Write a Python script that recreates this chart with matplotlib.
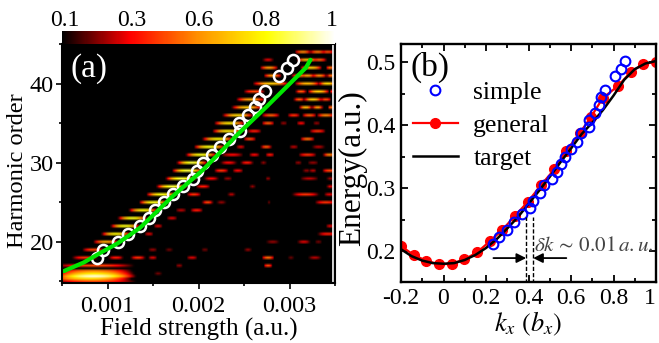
import numpy as np
import matplotlib
matplotlib.use("Agg")
import matplotlib.pyplot as plt
from matplotlib.colors import LinearSegmentedColormap, Normalize
from matplotlib.cm import ScalarMappable
from matplotlib.ticker import MultipleLocator

plt.rcParams['font.family'] = ['Liberation Serif', 'DejaVu Serif']
plt.rcParams['mathtext.fontset'] = 'stix'

# === panel (a) data, field strength in units of 1e-3 a.u. ===
circle_order = [18, 19, 20, 21, 22, 23, 24, 25, 26, 27, 28, 29, 30, 31, 32, 33, 34, 35, 36, 37, 38, 39, 41, 42, 43]
circle_field = [0.88, 0.95, 1.11, 1.22, 1.36, 1.46, 1.52, 1.62, 1.72, 1.83, 1.94, 1.98, 2.05, 2.15, 2.24, 2.33,
                2.46, 2.45, 2.54, 2.62, 2.67, 2.73, 2.89, 2.97, 3.04]
green_field = [0.52, 0.74, 0.92, 1.11, 1.36, 1.72, 2.05, 2.45, 2.75, 3.18, 3.23]
green_order = [16.3, 17.4, 18.6, 19.8, 21.8, 25.8, 29.1, 33.8, 37.1, 42.0, 43.0]

# bright ridge next to the circles
ridge_order = [18, 19, 20, 21, 22, 23, 24, 25, 26, 27, 28, 29, 30, 31, 32, 33, 34, 35, 36, 37, 38, 39]
ridge_center = [0.75, 0.84, 0.98, 1.09, 1.19, 1.27, 1.39, 1.50, 1.59, 1.70, 1.80, 1.87, 1.92, 2.02, 2.11, 2.20,
                2.31, 2.33, 2.42, 2.52, 2.56, 2.60]
ridge_width = [0.14, 0.12, 0.14, 0.16, 0.16, 0.16, 0.16, 0.16, 0.17, 0.17, 0.17, 0.17, 0.17, 0.17, 0.17, 0.17,
               0.17, 0.17, 0.17, 0.17, 0.16, 0.12]
ridge_level = [0.45, 0.5, 0.75, 1.0, 1.05, 1.05, 1.0, 1.05, 1.05, 1.1, 1.1, 1.1, 1.1, 1.05, 1.05, 1.0,
               0.95, 0.95, 0.9, 0.85, 0.75, 0.5]

# weaker spots away from the ridge
spot_order = [44, 44, 44, 43, 43, 43, 42, 42, 42, 41, 41, 41, 41, 41, 40, 40, 40, 39, 39, 39, 39, 38, 38, 38,
              37, 37, 37, 36, 36, 36, 36, 35, 35, 35, 35, 34, 34, 33, 33, 32, 32, 32, 32, 31, 31, 31, 31, 31,
              30, 30, 30, 30, 30, 29, 29, 29, 29, 29, 28, 28, 28, 28, 28, 27, 27, 27, 26, 26, 26, 26,
              25, 25, 25, 25, 24, 24, 23, 22, 22, 21, 21, 20, 20, 20, 19, 19, 19, 19,
              18, 18, 18, 18, 18, 18, 18, 17, 17, 16,
              17, 16.3, 16, 15.7, 15.3, 15]
spot_center = [3.13, 3.29, 3.40, 2.75, 3.18, 3.31, 2.76, 3.22, 3.43, 2.80, 3.10, 3.18, 3.31, 3.44, 2.78, 3.18, 3.40,
               2.60, 3.11, 3.30, 3.45, 3.09, 3.24, 3.38, 3.16, 3.29, 3.44, 2.78, 3.03, 3.20, 3.38, 2.75, 2.92, 3.11,
               3.28, 2.60, 3.29, 2.55, 3.18, 2.45, 2.73, 3.03, 3.30, 2.36, 2.60, 2.77, 3.18, 3.42, 2.32, 2.52, 2.70,
               3.08, 3.24, 2.24, 2.42, 3.17, 3.24, 3.42, 2.13, 2.31, 2.75, 3.20, 3.43, 2.04, 2.58, 3.43, 1.94, 2.35,
               3.16, 3.42, 2.09, 2.24, 2.76, 3.38, 1.97, 1.80, 1.70, 1.55, 3.43, 1.45, 3.40, 2.80, 3.14, 3.30,
               1.49, 1.67, 2.06, 2.53, 1.09, 1.33, 1.49, 1.92, 2.75, 3.00, 3.26, 2.75, 1.78, 1.55,
               0.85, 0.85, 0.85, 0.85, 0.80, 0.85]
spot_width = [0.09, 0.09, 0.07, 0.06, 0.12, 0.08, 0.10, 0.12, 0.05, 0.10, 0.10, 0.08, 0.08, 0.05, 0.20, 0.14, 0.10,
              0.07, 0.06, 0.12, 0.03, 0.06, 0.10, 0.06, 0.07, 0.06, 0.04, 0.10, 0.07, 0.08, 0.10, 0.07, 0.04, 0.05,
              0.04, 0.08, 0.09, 0.07, 0.08, 0.05, 0.06, 0.05, 0.07, 0.12, 0.06, 0.05, 0.10, 0.07, 0.09, 0.07, 0.03,
              0.04, 0.06, 0.08, 0.06, 0.04, 0.04, 0.08, 0.08, 0.05, 0.03, 0.10, 0.04, 0.08, 0.03, 0.04, 0.08, 0.04,
              0.15, 0.06, 0.06, 0.05, 0.02, 0.12, 0.07, 0.06, 0.06, 0.05, 0.05, 0.05, 0.11, 0.07, 0.07, 0.04,
              0.05, 0.04, 0.04, 0.04, 0.08, 0.08, 0.05, 0.06, 0.07, 0.03, 0.07, 0.05, 0.04, 0.04,
              0.44, 0.42, 0.44, 0.46, 0.46, 0.46]
spot_level = [0.65, 0.60, 0.50, 0.30, 0.80, 0.55, 0.70, 0.85, 0.60, 0.70, 0.60, 0.70, 0.65, 0.60, 0.85, 0.80, 0.90,
              0.40, 0.55, 0.85, 0.40, 0.55, 0.85, 0.50, 0.80, 0.70, 0.60, 0.55, 0.45, 0.55, 0.65, 0.55, 0.20, 0.35,
              0.20, 0.40, 0.45, 0.50, 0.60, 0.30, 0.55, 0.25, 0.25, 0.35, 0.35, 0.40, 0.45, 0.65, 0.35, 0.40, 0.20,
              0.20, 0.20, 0.45, 0.35, 0.20, 0.25, 0.50, 0.35, 0.20, 0.20, 0.25, 0.20, 0.40, 0.20, 0.30, 0.45, 0.25,
              0.45, 0.30, 0.50, 0.20, 0.15, 0.45, 0.40, 0.25, 0.30, 0.30, 0.30, 0.30, 0.40, 0.20, 0.30, 0.15,
              0.20, 0.15, 0.15, 0.20, 0.40, 0.45, 0.30, 0.30, 0.60, 0.15, 0.25, 0.50, 0.20, 0.15,
              0.50, 0.65, 0.95, 1.3, 0.9, 0.5]

cbar_ticks = [0.012, 0.257, 0.5, 0.745, 0.989]
cbar_labels = ["0.1", "0.3", "0.6", "0.8", "1"]

# === panel (b) data ===
target_k = [-0.2, -0.15, -0.1, -0.05, 0, 0.05, 0.1, 0.15, 0.2, 0.25, 0.3, 0.35, 0.4, 0.45, 0.5, 0.55, 0.6, 0.65,
            0.7, 0.75, 0.8, 0.85, 0.9, 0.95, 1.0]
target_e = [0.203, 0.192, 0.185, 0.181, 0.180, 0.181, 0.186, 0.194, 0.205, 0.219, 0.236, 0.254, 0.275, 0.296,
            0.318, 0.341, 0.363, 0.386, 0.404, 0.424, 0.447, 0.472, 0.489, 0.498, 0.502]
general_k = [-0.199, -0.141, -0.082, -0.022, 0.039, 0.098, 0.158, 0.219, 0.275, 0.336, 0.396, 0.459, 0.522, 0.577,
             0.64, 0.694, 0.749, 0.82, 0.883, 0.94, 1.0]
general_e = [0.208, 0.194, 0.185, 0.179, 0.180, 0.187, 0.198, 0.216, 0.233, 0.256, 0.278, 0.305, 0.330, 0.359,
             0.387, 0.413, 0.443, 0.462, 0.485, 0.497, 0.501]
simple_k = [0.235, 0.26, 0.30, 0.334, 0.37, 0.405, 0.42, 0.452, 0.475, 0.51, 0.533, 0.554, 0.574, 0.601, 0.627,
            0.648, 0.684, 0.684, 0.715, 0.734, 0.742, 0.761, 0.808, 0.833, 0.855]
simple_e = [0.211, 0.223, 0.234, 0.246, 0.259, 0.269, 0.280, 0.293, 0.305, 0.315, 0.326, 0.339, 0.350, 0.363, 0.373,
            0.387, 0.397, 0.409, 0.420, 0.432, 0.445, 0.456, 0.478, 0.490, 0.502]

W, H = 659, 343


def box(x0, y0, x1, y1):
    return [x0 / W, 1 - y1 / H, (x1 - x0) / W, (y1 - y0) / H]


fig = plt.figure(figsize=(W / 100, H / 100), dpi=100)
cmap = LinearSegmentedColormap.from_list(
    "heat", [(0, "black"), (0.25, "#ff0000"), (0.5, "#ff9000"), (0.75, "#ffff00"), (1, "white")])

# === (a) harmonic map ===
ax = fig.add_axes(box(62, 44, 335, 283))
columns = np.arange(0.5, 3.5, 0.02)
step = 1 / 3
rows = 14 + step * np.arange(94)
grid = np.zeros((len(rows), len(columns)))
for orders, centers, widths, levels in [(spot_order, spot_center, spot_width, spot_level),
                                        (ridge_order, ridge_center, ridge_width, ridge_level)]:
    for n, c, w, lv in zip(orders, centers, widths, levels):
        shape = lv * np.clip(1 - ((columns - c) / w) ** 2, 0, None)
        r = np.argmin(np.abs(rows - n))
        grid[r] = np.maximum(grid[r], shape)

ax.imshow(grid, origin='lower', aspect='auto', cmap=cmap, vmin=0, vmax=1.35, interpolation='bilinear',
          extent=[0.49e-3, 3.51e-3, rows[0] - step / 2, rows[-1] + step / 2])
ax.plot(np.array(circle_field) * 1e-3, circle_order, 'o', mfc='none', mec='white', ms=8, mew=1.8)
ax.plot(np.array(green_field) * 1e-3, green_order, color='#00e600', lw=3, solid_capstyle='round')
ax.axvline(3.48e-3, color='white', lw=1.2)
ax.set_xlim(0.0005, 0.0035)
ax.set_ylim(14.8, 45)
ax.xaxis.set_major_locator(MultipleLocator(0.001))
ax.xaxis.set_minor_locator(MultipleLocator(0.0005))
ax.yaxis.set_major_locator(MultipleLocator(10))
ax.yaxis.set_minor_locator(MultipleLocator(5))
ax.set_xticks([0.001, 0.002, 0.003], ["0.001", "0.002", "0.003"])
ax.tick_params(which='major', length=4, width=1.2, labelsize=17.5, pad=2)
ax.tick_params(axis='x', which='major', pad=5)
ax.tick_params(which='minor', length=2, width=1.2)
ax.set_xlabel("Field strength (a.u.)", fontsize=18, labelpad=1)
ax.set_ylabel("Harmonic order", fontsize=17.6, labelpad=1, y=0.47)
ax.text(70, H - 77, "(a)", color='white', fontsize=24, transform=None)
for s in ax.spines.values():
    s.set_linewidth(1.5)

cax = fig.add_axes(box(62, 31, 335, 44))
cb = fig.colorbar(ScalarMappable(Normalize(0, 1), cmap), cax=cax, orientation='horizontal')
cb.outline.set_visible(False)
cb.set_ticks(cbar_ticks, labels=cbar_labels)
cax.xaxis.set_ticks_position('top')
cax.tick_params(length=0, labelsize=17, pad=0)

# === (b) band ===
bx = fig.add_axes(box(401, 44, 656, 282))
bx.plot(general_k, general_e, '-o', color='#ff0000', lw=1.6, ms=7, label="general")
bx.plot(target_k, target_e, color='black', lw=1.8, label="target")
bx.plot(simple_k, simple_e, 'o', mfc='none', mec='#0000ff', ms=7, mew=1.5, label="simple")
bx.set_xlim(-0.2, 1.0)
bx.set_ylim(0.151, 0.529)
bx.xaxis.set_major_locator(MultipleLocator(0.2))
bx.xaxis.set_minor_locator(MultipleLocator(0.1))
bx.yaxis.set_major_locator(MultipleLocator(0.1))
bx.yaxis.set_minor_locator(MultipleLocator(0.05))
bx.set_xticks([-0.2, 0, 0.2, 0.4, 0.6, 0.8, 1.0], ["-0.2", "0", "0.2", "0.4", "0.6", "0.8", "1"])
bx.get_xticklabels()[-1].set_ha('right')
bx.tick_params(which='both', direction='in', top=True, right=True, width=1.3, labelsize=17, pad=4)
bx.tick_params(which='major', length=5)
bx.tick_params(which='minor', length=3)
bx.set_xlabel(r"$k_x\ (b_x)$", fontsize=19, labelpad=1)
bx.set_ylabel("Energy(a.u.)", fontsize=22.5, labelpad=-1, y=0.48)
bx.text(410, H - 76, "(b)", fontsize=24, transform=None)
for s in bx.spines.values():
    s.set_linewidth(1.7)

handles, labels = bx.get_legend_handles_labels()
order = [labels.index("simple"), labels.index("general"), labels.index("target")]
bx.legend([handles[i] for i in order], [labels[i] for i in order], frameon=False, fontsize=18.5,
          loc='upper left', bbox_to_anchor=(0.047, 0.845), handlelength=1.75, handletextpad=0.6, labelspacing=0.4,
          numpoints=1, borderpad=0, borderaxespad=0)

# resolution marks
for k in [0.389, 0.422]:
    bx.plot([k, k], [0.15, 0.255], color='black', lw=1, ls='--', dashes=(3, 1.5))
bx.annotate("", xy=(0.389, 0.189), xytext=(0.235, 0.189),
            arrowprops=dict(arrowstyle='-|>', color='black', lw=1.3, mutation_scale=14, shrinkA=0, shrinkB=0))
bx.annotate("", xy=(0.422, 0.189), xytext=(0.578, 0.189),
            arrowprops=dict(arrowstyle='-|>', color='black', lw=1.3, mutation_scale=14, shrinkA=0, shrinkB=0))
bx.text(0.425, 0.207, r"$\delta k\,\sim\,0.01\,a.u.$", color='#444444', fontsize=15.2, va='center', ha='left')

fig.savefig("out.png", dpi=100)
